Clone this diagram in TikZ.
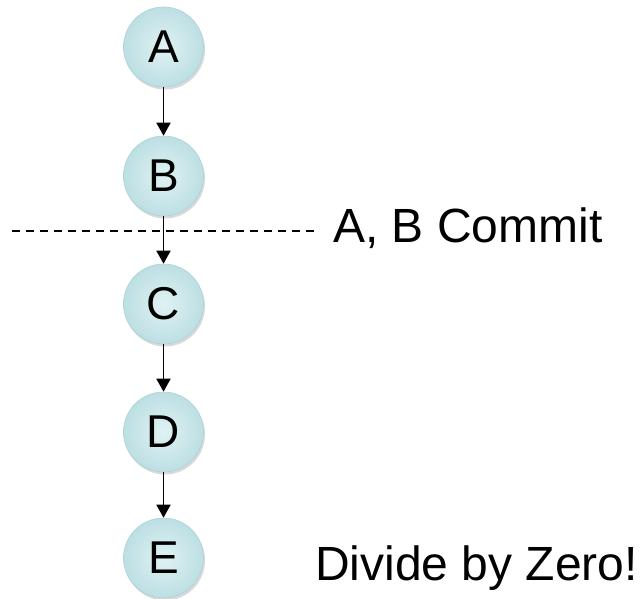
\documentclass[tikz,border=0pt]{standalone}
\usepackage{fontspec}
\setmainfont{Liberation Sans}
\usetikzlibrary{arrows.meta,shadows}
\definecolor{ballout}{HTML}{BCDFE3}
\definecolor{ballin}{HTML}{E0F2F3}
\definecolor{ballrim}{HTML}{ADD2D6}
\tikzset{
  ball/.style={circle, minimum size=80pt, inner sep=0pt, draw=ballrim, line width=0.6pt,
    inner color=ballin, outer color=ballout,
    drop shadow={shadow xshift=1.5pt, shadow yshift=-2.5pt, opacity=0.3, fill=gray},
    font=\fontsize{46}{46}\selectfont},
  link/.style={line width=1.8pt, -{Triangle[width=14pt,length=13pt]}},
  cut/.style={line width=1.2pt, dash pattern=on 8pt off 6pt},
  note/.style={anchor=base west, inner sep=0pt, font=\fontsize{48}{48}\selectfont}
}
\begin{document}
\begin{tikzpicture}[x=1pt,y=-1pt]
\useasboundingbox (0,0) rectangle (641,599);
\node[ball] (A) at (163.5,47) {A};
\node[ball] (B) at (163.5,176) {B};
\node[ball] (C) at (163.5,304) {C};
\node[ball] (D) at (163.5,432) {D};
\node[ball] (E) at (163.5,558) {E};
\draw[link] (A) -- (B);
\draw[link] (B) -- (C);
\draw[link] (C) -- (D);
\draw[link] (D) -- (E);
\coordinate (cutL) at (12,231);
\coordinate (cutR) at (314,231);
\draw[cut] (cutL) -- (cutR);
\node[note] (commit) at (333,243) {A, B Commit};
\node[note] (zero) at (315,580) {Divide by Zero!};
\end{tikzpicture}
\end{document}
